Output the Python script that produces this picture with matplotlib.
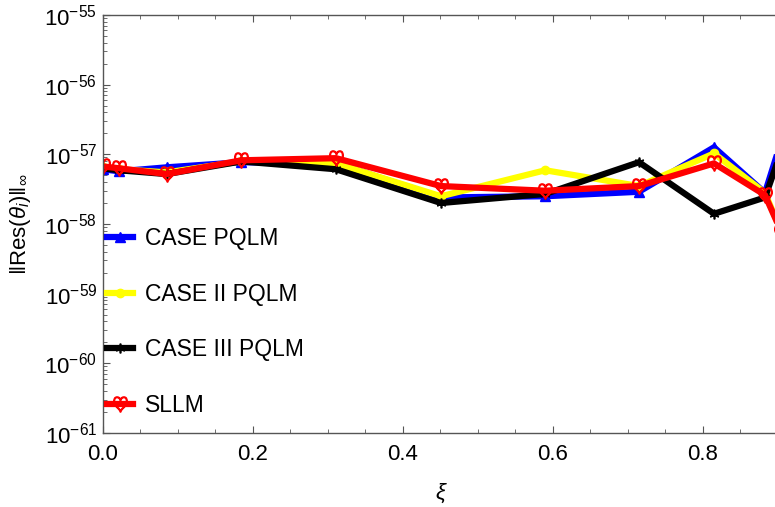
import numpy as np
import matplotlib
matplotlib.use("Agg")
import matplotlib.pyplot as plt
from matplotlib.ticker import LogLocator, MultipleLocator, NullFormatter, FixedLocator

plt.rcParams['font.family'] = ['Liberation Sans', 'DejaVu Sans']
plt.rcParams['mathtext.fontset'] = 'custom'
plt.rcParams['mathtext.rm'] = 'Liberation Sans'
plt.rcParams['mathtext.it'] = 'Liberation Sans:italic'

# collocation points
xi = [0.0, 0.0217, 0.0853, 0.185, 0.311, 0.451, 0.590, 0.715, 0.815, 0.883, 0.905]

# max residual at each point
res_case1 = [6.1e-58, 5.7e-58, 6.5e-58, 7.7e-58, 7.4e-58, 2.4e-58, 2.5e-58, 2.9e-58, 1.26e-57, 2.8e-58, 1.59e-57]
res_case2 = [6.5e-58, 6.1e-58, 5.5e-58, 7.9e-58, 7.4e-58, 2.5e-58, 5.9e-58, 3.5e-58, 1.03e-57, 2.8e-58, 7.6e-59]
res_case3 = [6.3e-58, 5.9e-58, 5.2e-58, 7.9e-58, 6.1e-58, 2.0e-58, 2.7e-58, 7.7e-58, 1.4e-58, 2.4e-58, 1.14e-57]
res_sllm = [6.7e-58, 6.3e-58, 5.2e-58, 8.2e-58, 8.8e-58, 3.5e-58, 3.0e-58, 3.5e-58, 7.4e-58, 2.6e-58, 7.6e-59]

labels = ['CASE PQLM', 'CASE II PQLM', 'CASE III PQLM', 'SLLM']

fig = plt.figure(figsize=(7.75, 5.07), dpi=100)
ax = fig.add_axes([0.1325, 0.146, 0.8752, 0.8245])

lw = 4.5
ax.plot(xi, res_case1, color='blue', lw=lw, marker='^', ms=7, label=labels[0])
ax.plot(xi, res_case2, color='yellow', lw=lw, marker='o', ms=6, label=labels[1])
ax.plot(xi, res_case3, color='black', lw=lw, marker=(6, 2, 0), ms=7, mew=1.2, label=labels[2])
ax.plot(xi, res_sllm, color='red', lw=lw, marker=r'$\heartsuit$', ms=11,
        mec='red', mfc='none', label=labels[3])

ax.set_yscale('log')
ax.set_xlim(0, 0.9043)
ax.set_ylim(1e-61, 1e-55)

ax.yaxis.set_major_locator(FixedLocator([10.0**k for k in range(-61, -54)]))
ax.yaxis.set_minor_locator(LogLocator(base=10, subs=np.arange(2, 10)))
ax.yaxis.set_minor_formatter(NullFormatter())
ax.set_yticklabels([r'$10^{%d}$' % k for k in range(-61, -54)])
ax.xaxis.set_major_locator(MultipleLocator(0.2))
ax.xaxis.set_minor_locator(MultipleLocator(0.05))
ax.xaxis.set_major_formatter(plt.FuncFormatter(lambda v, p: '%.1f' % v))

ax.tick_params(which='both', direction='in', top=True, right=False,
               color='#555555', labelsize=16, labelcolor='black')
ax.tick_params(axis='x', which='major', pad=8)
ax.tick_params(axis='y', which='major', pad=4)
ax.tick_params(which='major', length=5, width=0.8)
ax.tick_params(which='minor', length=3, width=0.6)
for s in ax.spines.values():
    s.set_color('#555555')
    s.set_linewidth(1.0)

ax.set_xlabel(r'$\xi$', fontsize=16, labelpad=12)
ax.set_ylabel(r'$\Vert\mathrm{Res}(\theta_i)\Vert_\infty$', fontsize=16, labelpad=8)

ax.legend(loc='center left', bbox_to_anchor=(0.0064, 0.2656), frameon=False,
          fontsize=16.5, handlelength=1.15, handletextpad=0.5, labelspacing=1.43,
          borderpad=0, borderaxespad=0)

fig.savefig('out.png', dpi=100)
